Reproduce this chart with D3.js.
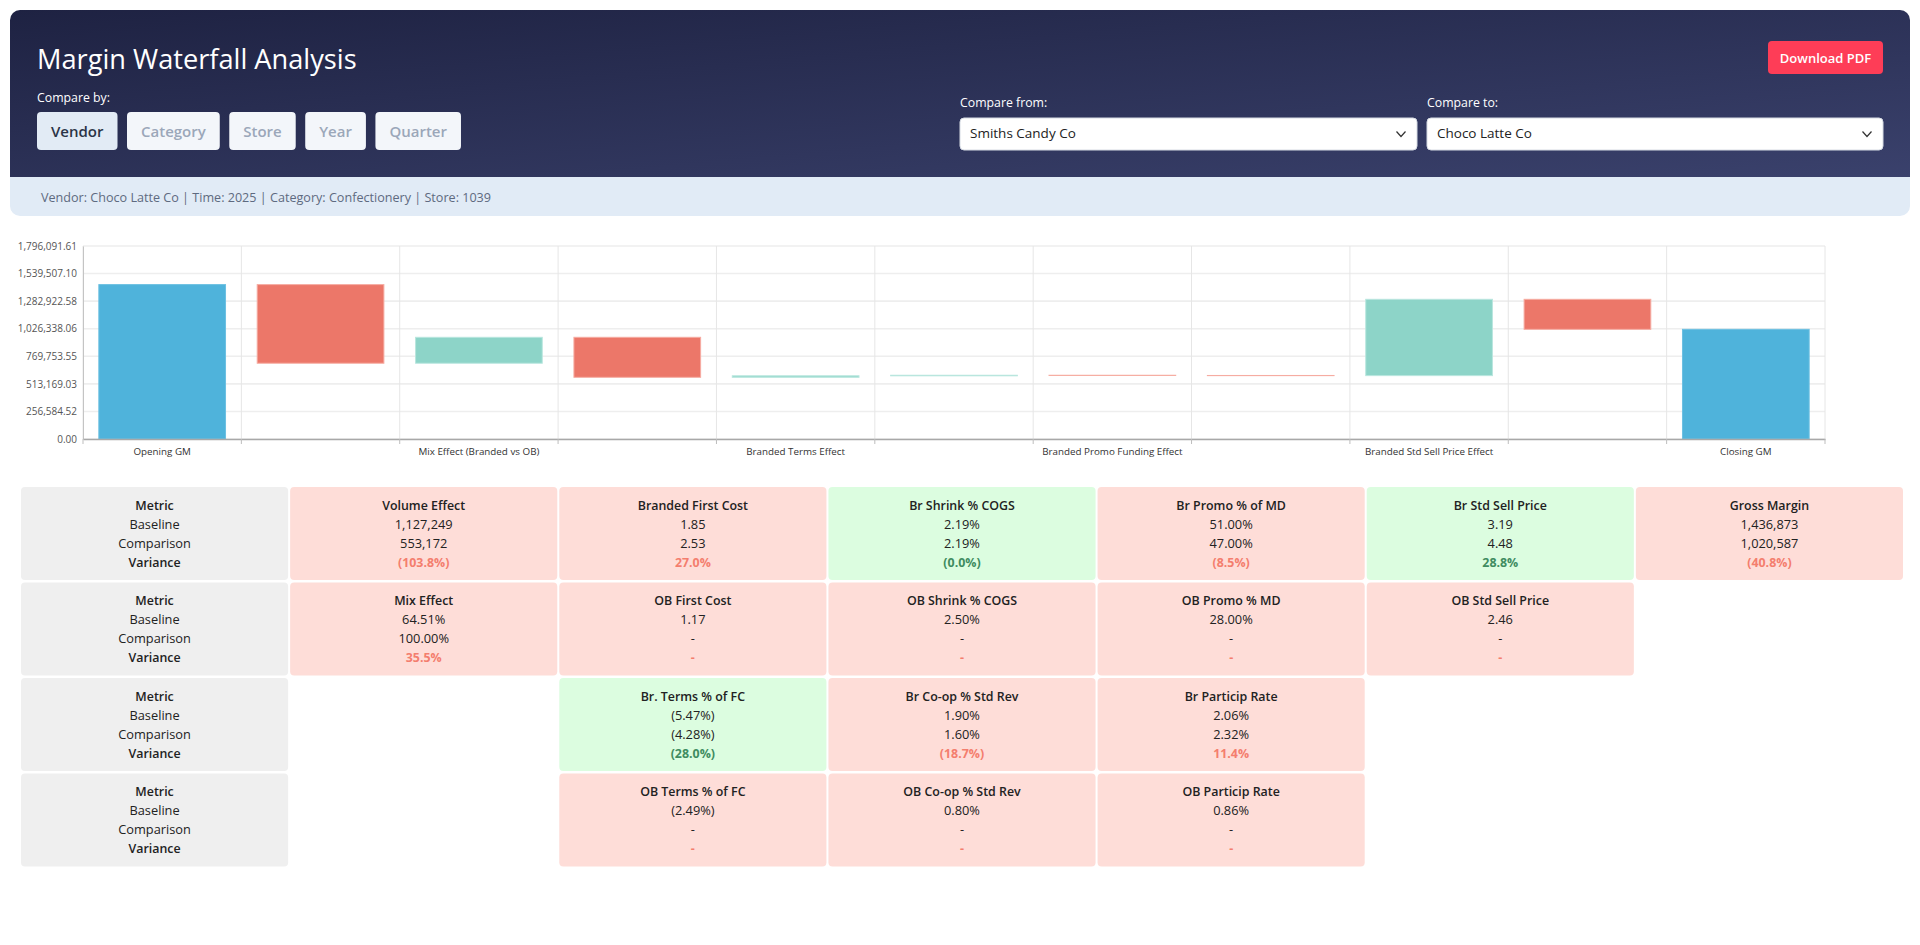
<!DOCTYPE html>
<html><head><meta charset="utf-8">
<script src="https://cdn.jsdelivr.net/npm/d3@7"></script>
<style>
html,body{margin:0;padding:0;background:#fff;overflow:hidden;}
svg text{font-family:"Segoe UI","Open Sans","Noto Sans",sans-serif;}
</style></head><body>
<svg id="page" width="1920" height="945"></svg>
<script>
// ---------- header data ----------
const pageTitle = "Margin Waterfall Analysis";
const compareByOptions = ["Vendor", "Category", "Store", "Year", "Quarter"];
const selectedCompareBy = "Vendor";
const compareFromValue = "Smiths Candy Co";
const compareToValue = "Choco Latte Co";
const contextText = "Vendor: Choco Latte Co | Time: 2025 | Category: Confectionery | Store: 1039";

// ---------- waterfall data ----------
const categories = ["Opening GM", "Volume Effect", "Mix Effect (Branded vs OB)", "Branded First Cost Effect",
  "Branded Terms Effect", "Branded Shrink Effect", "Branded Promo Funding Effect", "Branded Co-op Effect",
  "Branded Std Sell Price Effect", "Branded Particip Effect", "Closing GM"];
const stepTypes = ["total", "delta", "delta", "delta", "delta", "delta", "delta", "delta", "delta", "delta", "total"];
const stepValues = [1436873, -731760, 241300, -372200, 14000, 5000, -2000, -1500, 710287, -279413, 1020587];
const yTickValues = [0, 256584.52, 513169.03, 769753.55, 1026338.06, 1282922.58, 1539507.10, 1796091.61];

// ---------- metric tiles data ----------
const metricLabels = ["Metric", "Baseline", "Comparison", "Variance"];
const tileNames = [
  ["Volume Effect", "Branded First Cost", "Br Shrink % COGS", "Br Promo % of MD", "Br Std Sell Price", "Gross Margin"],
  ["Mix Effect", "OB First Cost", "OB Shrink % COGS", "OB Promo % MD", "OB Std Sell Price", null],
  [null, "Br. Terms % of FC", "Br Co-op % Std Rev", "Br Particip Rate", null, null],
  [null, "OB Terms % of FC", "OB Co-op % Std Rev", "OB Particip Rate", null, null]
];
const tileBaseline = [
  ["1,127,249", "1.85", "2.19%", "51.00%", "3.19", "1,436,873"],
  ["64.51%", "1.17", "2.50%", "28.00%", "2.46", null],
  [null, "(5.47%)", "1.90%", "2.06%", null, null],
  [null, "(2.49%)", "0.80%", "0.86%", null, null]
];
const tileComparison = [
  ["553,172", "2.53", "2.19%", "47.00%", "4.48", "1,020,587"],
  ["100.00%", "-", "-", "-", "-", null],
  [null, "(4.28%)", "1.60%", "2.32%", null, null],
  [null, "-", "-", "-", null, null]
];
const tileVariance = [
  ["(103.8%)", "27.0%", "(0.0%)", "(8.5%)", "28.8%", "(40.8%)"],
  ["35.5%", "-", "-", "-", "-", null],
  [null, "(28.0%)", "(18.7%)", "11.4%", null, null],
  [null, "-", "-", "-", null, null]
];
const tileFavorable = [
  [false, false, true, false, true, false],
  [false, false, false, false, false, null],
  [null, true, false, false, null, null],
  [null, false, false, false, null, null]
];

// ---------- drawing ----------
const svg = d3.select("#page");
const defs = svg.append("defs");
const grad = defs.append("linearGradient").attr("id", "hdrGrad")
  .attr("x1", "0").attr("y1", "0").attr("x2", "1").attr("y2", "1");
grad.append("stop").attr("offset", "0").attr("stop-color", "#1e2242");
grad.append("stop").attr("offset", "1").attr("stop-color", "#3a416c");
defs.append("clipPath").attr("id", "cardClip").append("rect")
  .attr("x", 10).attr("y", 10).attr("width", 1900).attr("height", 206).attr("rx", 10);

const card = svg.append("g").attr("clip-path", "url(#cardClip)");
card.append("rect").attr("x", 10).attr("y", 10).attr("width", 1900).attr("height", 167).attr("fill", "url(#hdrGrad)");
card.append("rect").attr("x", 10).attr("y", 177).attr("width", 1900).attr("height", 39).attr("fill", "#e1ebf6");

svg.append("text").attr("x", 37).attr("y", 69).attr("fill", "#fff")
  .attr("font-size", 27.2).text(pageTitle);
svg.append("text").attr("x", 37).attr("y", 102).attr("fill", "#fff")
  .attr("font-size", 12.3).text("Compare by:");

let bx = 37;
compareByOptions.forEach(opt => {
  const sel = opt === selectedCompareBy;
  const g = svg.append("g");
  const r = g.append("rect").attr("y", 112).attr("height", 38).attr("rx", 4)
    .attr("fill", sel ? "#e2ebf5" : "#f3f6fa");
  const t = g.append("text").attr("y", 137).attr("font-size", 15).attr("font-weight", 600)
    .attr("text-anchor", "middle").attr("fill", sel ? "#2b3447" : "#9ba7b9").text(opt);
  const w = t.node().getComputedTextLength() + 28;
  r.attr("x", bx).attr("width", w);
  t.attr("x", bx + w / 2);
  bx += w + 9.5;
});

// download button
svg.append("rect").attr("x", 1768).attr("y", 41).attr("width", 115).attr("height", 33).attr("rx", 4).attr("fill", "#fe3d57");
svg.append("text").attr("x", 1825.5).attr("y", 62.5).attr("text-anchor", "middle").attr("fill", "#fff")
  .attr("font-size", 13).attr("font-weight", 600).text("Download PDF");

// selects
const selects = [
  {label: "Compare from:", value: compareFromValue, x: 960, w: 457},
  {label: "Compare to:", value: compareToValue, x: 1427, w: 456}
];
selects.forEach(s => {
  svg.append("text").attr("x", s.x).attr("y", 107).attr("fill", "#fff").attr("font-size", 12.3).text(s.label);
  svg.append("rect").attr("x", s.x).attr("y", 118).attr("width", s.w).attr("height", 32).attr("rx", 4)
    .attr("fill", "#fff").attr("stroke", "#d6dbe3").attr("stroke-width", 1);
  svg.append("text").attr("x", s.x + 10).attr("y", 138).attr("fill", "#222").attr("font-size", 13.5).text(s.value);
  const cx = s.x + s.w - 16, cy = 134;
  svg.append("polyline").attr("points", `${cx - 4.5},${cy - 2.5} ${cx},${cy + 2.5} ${cx + 4.5},${cy - 2.5}`)
    .attr("fill", "none").attr("stroke", "#333").attr("stroke-width", 1.2);
});

svg.append("text").attr("x", 41).attr("y", 201.5).attr("fill", "#5e6a80").attr("font-size", 12.6).text(contextText);

// ---------- waterfall chart ----------
const plot = {left: 83, right: 1825, top: 246, bottom: 439};
const x = d3.scaleBand().domain(categories).range([plot.left, plot.right]).paddingInner(0.2).paddingOuter(0.1);
const y = d3.scaleLinear().domain([0, yTickValues[yTickValues.length - 1]]).range([plot.bottom, plot.top]);
const chart = svg.append("g");

// horizontal grid
chart.selectAll("line.hg").data(yTickValues).enter().append("line")
  .attr("x1", plot.left).attr("x2", plot.right).attr("y1", d => y(d)).attr("y2", d => y(d))
  .attr("stroke", "#eeeeee").attr("stroke-width", 1.6);
// vertical grid at band boundaries
const boundaries = d3.range(categories.length + 1).map(i => plot.left + i * x.step());
chart.selectAll("line.vg").data(boundaries).enter().append("line")
  .attr("x1", d => d).attr("x2", d => d).attr("y1", plot.top).attr("y2", plot.bottom)
  .attr("stroke", "#e6e6e6").attr("stroke-width", 1);

// bars
let running = 0;
const bars = categories.map((c, i) => {
  let lo, hi, kind;
  if (stepTypes[i] === "total") {
    lo = 0; hi = stepValues[i]; running = stepValues[i]; kind = "total";
  } else {
    const start = running; running += stepValues[i];
    lo = Math.min(start, running); hi = Math.max(start, running);
    kind = stepValues[i] >= 0 ? "up" : "down";
  }
  return {c, lo, hi, kind};
});
const fillFor = {total: "#4fb3db", up: "#8dd4c8", down: "#ec7769"};
const strokeFor = {total: "#6cc0e2", up: "#b9e6de", down: "#f6aca2"};
chart.selectAll("rect.bar").data(bars).enter().append("rect")
  .attr("x", d => x(d.c)).attr("width", x.bandwidth())
  .attr("y", d => y(d.hi)).attr("height", d => Math.max(0, y(d.lo) - y(d.hi)))
  .attr("fill", d => fillFor[d.kind]).attr("stroke", d => strokeFor[d.kind]).attr("stroke-width", 1);

// axes
const yAxis = d3.axisLeft(y).tickValues(yTickValues).tickFormat(d3.format(",.2f")).tickSize(0).tickPadding(6);
const gy = chart.append("g").attr("transform", `translate(${plot.left},0)`).call(yAxis);
gy.select(".domain").attr("stroke", "#c4c4c4");
gy.selectAll("text").attr("font-size", 10).attr("fill", "#555");

const xAxis = d3.axisBottom(x).tickSize(0).tickPadding(9)
  .tickFormat((d, i) => i % 2 === 0 ? d : "");
const gx = chart.append("g").attr("transform", `translate(0,${plot.bottom})`).call(xAxis);
gx.select(".domain").attr("stroke", "#a8a8a8").attr("stroke-width", 1.6);
gx.selectAll("text").attr("font-size", 9.8).attr("fill", "#333");
chart.selectAll("line.xt").data(boundaries).enter().append("line")
  .attr("x1", d => d).attr("x2", d => d).attr("y1", plot.bottom).attr("y2", plot.bottom + 5)
  .attr("stroke", "#bdbdbd").attr("stroke-width", 1);
svg.selectAll(".tick text").style("font-family", '"Segoe UI","Open Sans","Noto Sans",sans-serif');

// ---------- tiles ----------
const tileLeft = 21, tileRight = 1903, colGap = 2, nCols = 7;
const colW = (tileRight - tileLeft - colGap * (nCols - 1)) / nCols;
const rowTop = 487, rowH = 93, rowGap = 2.5;
const lineOffsets = [22.5, 41.5, 60.5, 79.5];
const tiles = svg.append("g");
function tileText(cx, ty, k, txt, color, isTileValue) {
  const bold = k === 0 || k === 3;
  tiles.append("text").attr("x", cx).attr("y", ty + lineOffsets[k]).attr("text-anchor", "middle")
    .attr("font-size", bold ? 12.4 : 12.8)
    .attr("font-weight", bold ? ((k === 3 && isTileValue) ? 700 : 600) : 400)
    .attr("fill", color).text(txt);
}
tileNames.forEach((row, r) => {
  const ty = rowTop + r * (rowH + rowGap);
  const mx = tileLeft;
  tiles.append("rect").attr("x", mx).attr("y", ty).attr("width", colW).attr("height", rowH).attr("rx", 4).attr("fill", "#efefef");
  metricLabels.forEach((lab, k) => tileText(mx + colW / 2, ty, k, lab, "#222", false));
  row.forEach((name, c) => {
    if (name === null) return;
    const cx = tileLeft + (c + 1) * (colW + colGap);
    const fav = tileFavorable[r][c];
    tiles.append("rect").attr("x", cx).attr("y", ty).attr("width", colW).attr("height", rowH).attr("rx", 4)
      .attr("fill", fav ? "#dcfde0" : "#feddd8");
    const vals = [name, tileBaseline[r][c], tileComparison[r][c], tileVariance[r][c]];
    vals.forEach((v, k) => tileText(cx + colW / 2, ty, k, v, k === 3 ? (fav ? "#3f8c60" : "#f47e6e") : "#222", true));
  });
});
</script>
</body></html>
